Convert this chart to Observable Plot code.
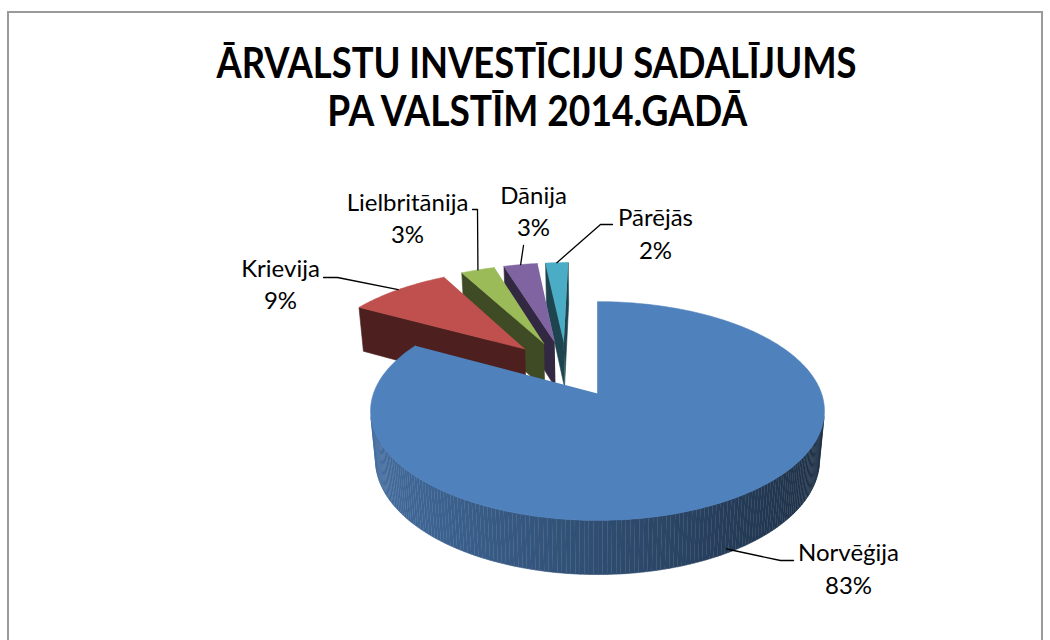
<!DOCTYPE html>
<html>
<head>
<meta charset="utf-8">
<script src="https://cdn.jsdelivr.net/npm/d3@7"></script>
<script src="https://cdn.jsdelivr.net/npm/@observablehq/plot@0.6"></script>
<style>
  html, body { margin: 0; padding: 0; background: #fff; }
  #wrap { position: relative; width: 1050px; height: 640px; overflow: hidden; background: #fff; }
  #frame { position: absolute; left: 7px; top: 11px; width: 1036px; height: 700px; border: 2px solid #9a9a9a; box-sizing: border-box; }
  #chart { position: absolute; left: 0; top: 0; }
  .title { position: absolute; left: 12px; width: 1050px; height: 42px; line-height: 42px; text-align: center; font-family: Lato, "Open Sans", sans-serif; font-weight: 700; font-size: 42px; color: #000; white-space: nowrap; }
  .title span { display: inline-block; transform-origin: center; }
</style>
</head>
<body>
<div id="wrap">
  <div id="frame"></div>
  <div id="chart"></div>
  <div class="title" id="t1" style="top:41px"><span>ĀRVALSTU INVESTĪCIJU SADALĪJUMS</span></div>
  <div class="title" id="t2" style="top:89px"><span>PA VALSTĪM 2014.GADĀ</span></div>
</div>
<script>
// ---- data ----
const categories = ["Norvēģija", "Krievija", "Lielbritānija", "Dānija", "Pārējās"];
const shares = [83, 9, 3, 3, 2];
const shareLabels = ["83%", "9%", "3%", "3%", "2%"];
const palette = ["#4F81BD", "#C0504D", "#9BBB59", "#8064A2", "#4BACC6"];

// ---- layout (label boxes & leader elbows, pixels) ----
const labelLayout = [
  {x: 848, b1: 560, b2: 593, leader: [[793, 560], [780, 560]]},
  {x: 280, b1: 276, b2: 308, leader: [[323, 277], [337, 277]]},
  {x: 407, b1: 210, b2: 242, leader: [[472, 209], [477, 209]]},
  {x: 533, b1: 203, b2: 235, leader: [[523, 245]]},
  {x: 655, b1: 225, b2: 258, leader: [[612, 224], [600, 224]]}
];

// ---- 3D pie camera ----
const cam = {cx: 597, cy: 393, F: 1232, D: 5.5, tilt: 28.4 * Math.PI / 180, h: 0.251, explode: 0.285};
const sT = Math.sin(cam.tilt), cT = Math.cos(cam.tilt);
function proj(X, Y, Z) {
  const depth = cam.D - Y * sT - Z * cT;
  return [cam.cx + cam.F * X / depth, cam.cy - cam.F * (Y * cT - Z * sT) / depth];
}
const dir = a => [Math.sin(a), -Math.cos(a)];

const arcs = d3.pie().sort(null).value(d => d)(shares);
const offs = arcs.map(a => { const m = (a.startAngle + a.endAngle) / 2; const d = dir(m); return [cam.explode * d[0], cam.explode * d[1]]; });
const centers = offs.map(o => [o[0] - offs[0][0], o[1] - offs[0][1]]);

const shade = (base, f) => d3.interpolateRgb(base, "#000")(1 - f);

const sliceFaces = [];
arcs.forEach((arc, i) => {
  const [qx, qz] = centers[i];
  const a0 = arc.startAngle, a1 = arc.endAngle;
  const base = palette[i];
  const n = Math.max(2, Math.ceil((a1 - a0) / (Math.PI / 180)));
  const angs = d3.range(n + 1).map(k => a0 + (a1 - a0) * k / n);
  const faces = [];
  // radial cut faces
  [[a0, a0 - Math.PI / 2], [a1, a1 + Math.PI / 2]].forEach(([a, b]) => {
    const dot = Math.sin(b) * (0 - qx) + (-Math.cos(b)) * (cam.D * cT - qz);
    if (dot > 1e-6) {
      const [dx, dz] = dir(a);
      faces.push({fill: shade(base, 0.4), pts: [[qx, 0, qz], [qx + dx, 0, qz + dz], [qx + dx, -cam.h, qz + dz], [qx, -cam.h, qz]]});
    }
  });
  // outer curved side
  for (let k = 0; k < n; k++) {
    const am = (angs[k] + angs[k + 1]) / 2;
    const sa = Math.sin(am), ca = Math.cos(am);
    const dot = sa * (-qx - sa) + (-ca) * (cam.D * cT - qz + ca);
    if (dot > 0) {
      const [d0x, d0z] = dir(angs[k]), [d1x, d1z] = dir(angs[k + 1]);
      faces.push({fill: shade(base, 0.6 - 0.25 * sa), pts: [
        [qx + d0x, 0, qz + d0z], [qx + d1x, 0, qz + d1z],
        [qx + d1x, -cam.h, qz + d1z], [qx + d0x, -cam.h, qz + d0z]]});
    }
  }
  // top face
  faces.push({fill: base, pts: [[qx, 0, qz], ...angs.map(a => { const [dx, dz] = dir(a); return [qx + dx, 0, qz + dz]; })]});
  sliceFaces.push({z: qz, faces});
});

const polyPts = [];
let fid = 0;
sliceFaces.slice().sort((a, b) => a.z - b.z).forEach(sf => {
  sf.faces.forEach(f => {
    f.pts.forEach(p => { const [x, y] = proj(...p); polyPts.push({id: fid, x, y, fill: f.fill}); });
    fid++;
  });
});

// leader anchors from geometry
const anchors = arcs.map((arc, i) => {
  const [qx, qz] = centers[i];
  const [dx, dz] = dir((arc.startAngle + arc.endAngle) / 2);
  return i === 0 ? proj(qx + dx, -0.92 * cam.h, qz + dz) : proj(qx + dx, 0, qz + dz);
});
const leaderPts = [];
labelLayout.forEach((L, i) => {
  [...L.leader, anchors[i]].forEach(p => leaderPts.push({id: i, x: p[0], y: p[1]}));
});

const fs = 24;
const labelRows = [];
categories.forEach((c, i) => {
  labelRows.push({x: labelLayout[i].x, y: labelLayout[i].b1 - 0.32 * fs, text: c});
  labelRows.push({x: labelLayout[i].x, y: labelLayout[i].b2 - 0.32 * fs, text: shareLabels[i]});
});

const chart = Plot.plot({
  width: 1050, height: 640, margin: 0,
  x: {domain: [0, 1050], range: [0, 1050], axis: null},
  y: {domain: [0, 640], range: [0, 640], axis: null},
  color: {type: "identity"},
  style: {background: "transparent"},
  marks: [
    Plot.line(polyPts, {x: "x", y: "y", z: "id", fill: "fill", stroke: "fill", strokeWidth: 0.6, curve: "linear"}),
    Plot.line(leaderPts, {x: "x", y: "y", z: "id", stroke: "#000", strokeWidth: 1.3}),
    Plot.text(labelRows, {x: "x", y: "y", text: "text", fontSize: fs, fontFamily: "Lato", textAnchor: "middle", lineAnchor: "middle", fill: "#000"})
  ]
});
document.getElementById("chart").appendChild(chart);

// fit title widths
[["t1", 640], ["t2", 420]].forEach(([id, w]) => {
  const sp = document.querySelector("#" + id + " span");
  const cur = sp.getBoundingClientRect().width;
  sp.style.transform = `scaleX(${w / cur})`;
});
</script>
</body>
</html>
